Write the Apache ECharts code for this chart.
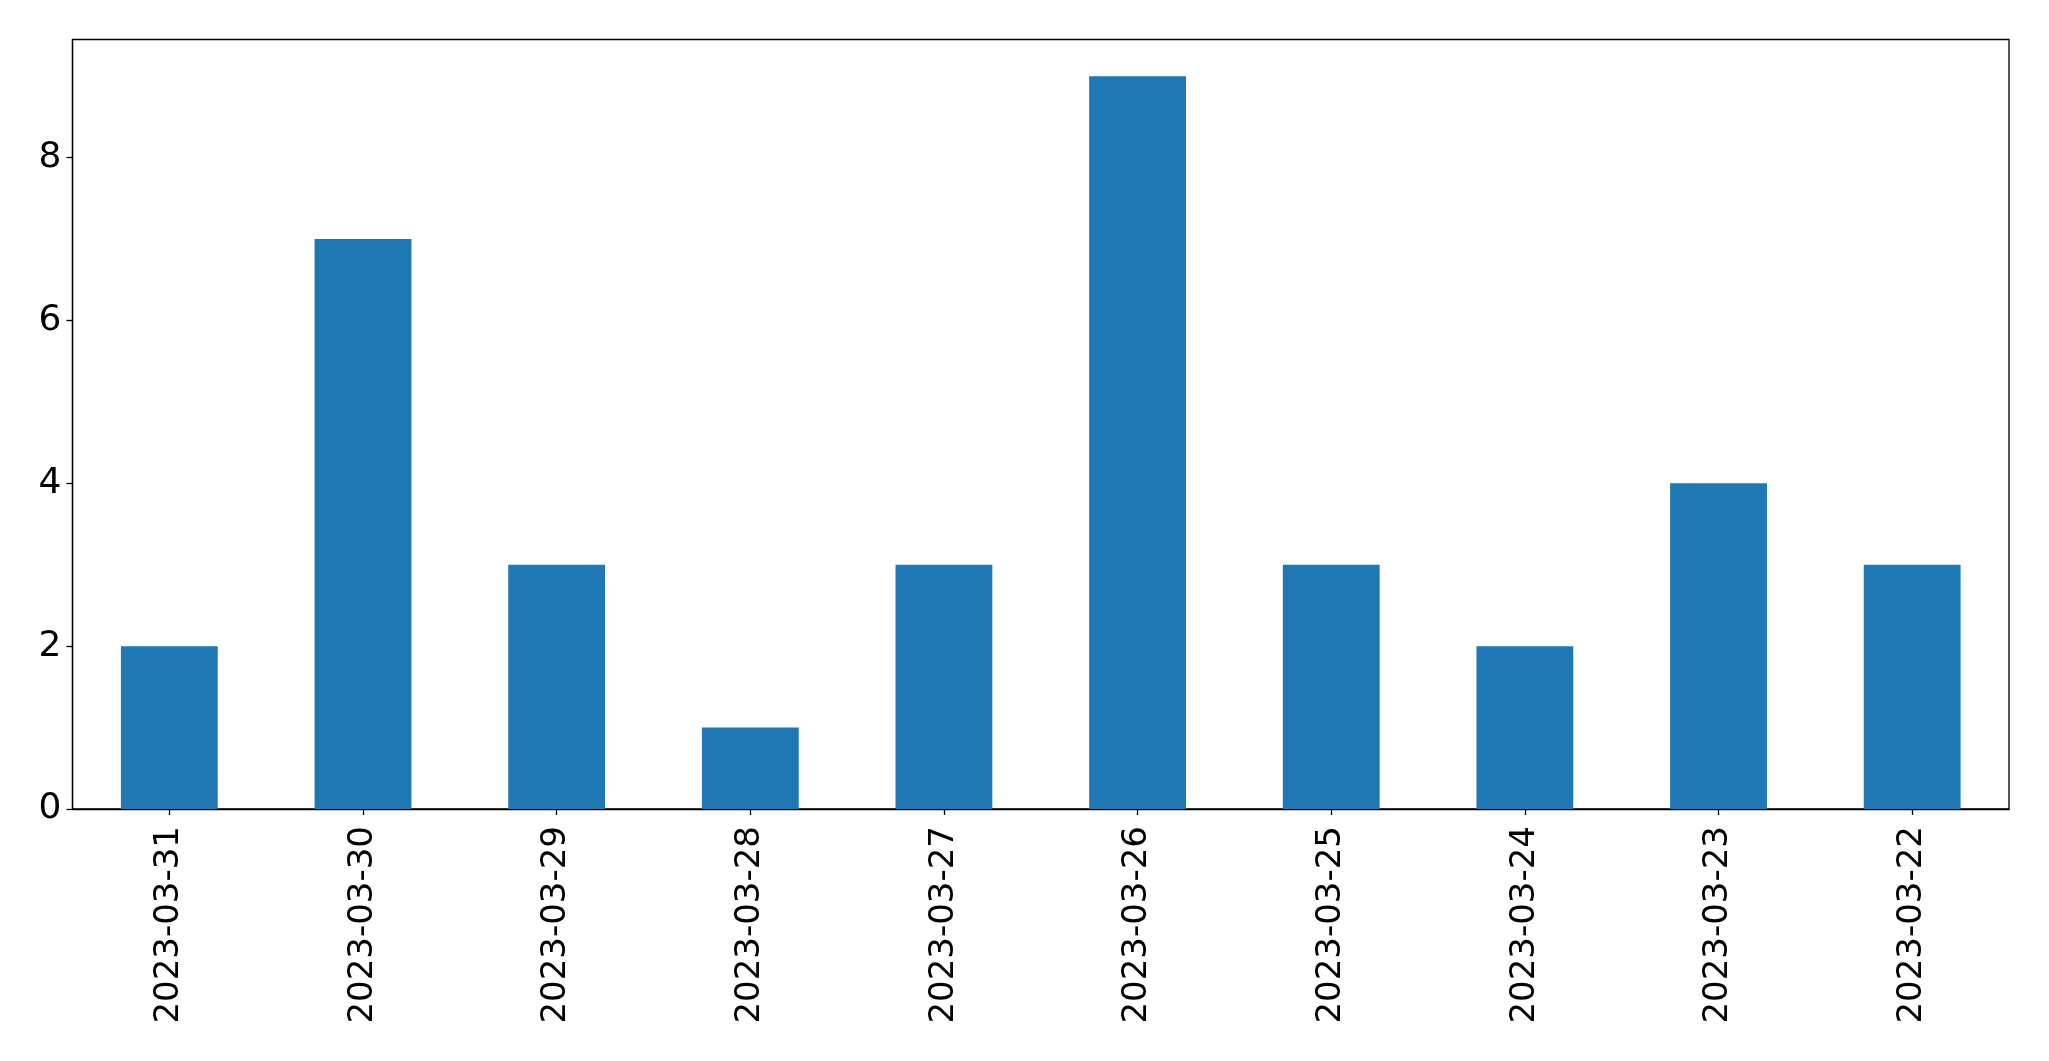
<!DOCTYPE html>
<html>
<head>
<meta charset="utf-8">
<script src="https://cdn.jsdelivr.net/npm/echarts@6/dist/echarts.min.js"></script>
<style>
html,body{margin:0;padding:0;background:#fff;}
#chart{width:2049px;height:1061px;}
</style>
</head>
<body>
<div id="chart"></div>
<script>
const categories = ['2023-03-31','2023-03-30','2023-03-29','2023-03-28','2023-03-27','2023-03-26','2023-03-25','2023-03-24','2023-03-23','2023-03-22'];
const values = [2, 7, 3, 1, 3, 9, 3, 2, 4, 3];
const yTicks = [0, 2, 4, 6, 8];

const chart = echarts.init(document.getElementById('chart'), null, {renderer: 'canvas'});
const font = 'DejaVu Sans';
chart.setOption({
  animation: false,
  backgroundColor: '#fff',
  grid: {
    left: 72.5, right: 40, top: 39.5, bottom: 252,
    show: true, borderColor: '#000', borderWidth: 1.3, backgroundColor: 'transparent'
  },
  xAxis: {
    type: 'category',
    data: categories,
    boundaryGap: true,
    axisLine: {show: true, lineStyle: {color: '#000', width: 1.3}},
    axisTick: {show: true, alignWithLabel: true, length: 6, lineStyle: {color: '#000', width: 1.3}},
    axisLabel: {rotate: 90, margin: 17, color: '#000', fontFamily: font, fontSize: 34, interval: 0},
    splitLine: {show: false}
  },
  yAxis: {
    type: 'value',
    min: 0,
    max: 9.45,
    interval: 2,
    axisLine: {show: true, lineStyle: {color: '#000', width: 1.3}},
    axisTick: {show: true, length: 6, lineStyle: {color: '#000', width: 1.3}},
    axisLabel: {
      margin: 11, color: '#000', fontFamily: font, fontSize: 36,
      padding: [5, 0, 0, 0],
      showMaxLabel: false,
      formatter: v => (yTicks.indexOf(v) >= 0 ? String(v) : '')
    },
    splitLine: {show: false}
  },
  series: [{
    type: 'bar',
    data: values,
    barWidth: '50%',
    itemStyle: {color: '#1f77b4'}
  }]
});
</script>
</body>
</html>
